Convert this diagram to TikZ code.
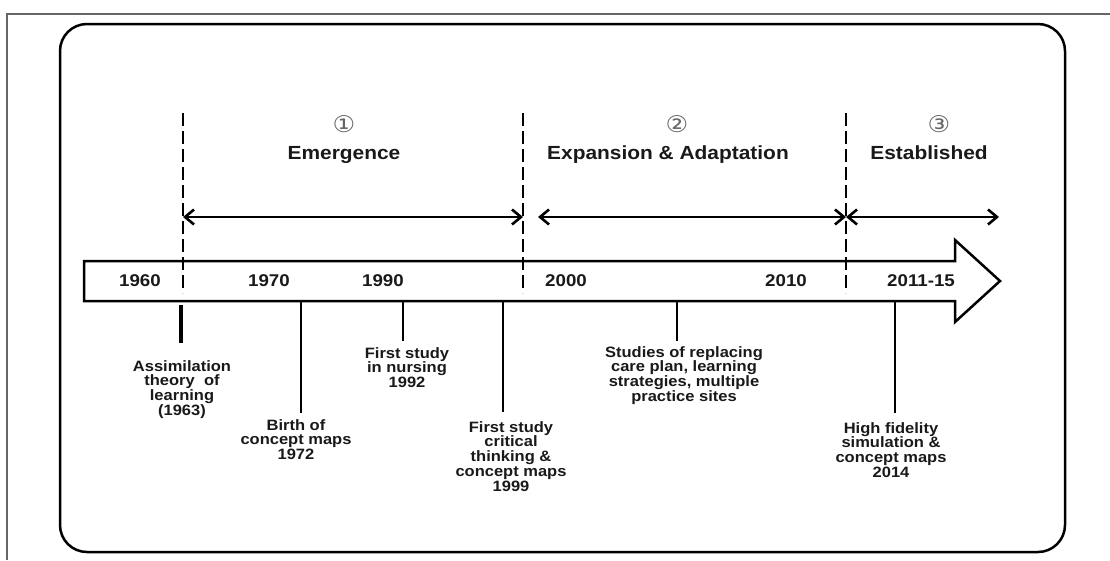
\documentclass[tikz,border=0pt]{standalone}
\usepackage{fontspec}
\setmainfont{Liberation Sans}[FakeStretch=1.1]
\newfontfamily\circfont{DejaVu Sans}[FakeStretch=1.1]
\usetikzlibrary{arrows.meta}
\begin{document}
\begin{tikzpicture}[x=1pt, y=-1pt,
  every node/.style={inner sep=0pt, text=black!90},
  phase/.style={font=\bfseries\fontsize{19}{22}\selectfont, anchor=base},
  num/.style={font=\circfont\fontsize{23}{25}\selectfont, text=black!60},
  year/.style={font=\bfseries\fontsize{17}{19}\selectfont, anchor=base},
  event/.style={font=\bfseries\fontsize{15}{14.8}\selectfont, align=center, anchor=north},
  divider/.style={line width=2pt, dash pattern=on 13pt off 5pt},
  span/.style={line width=2.6pt, {Straight Barb[length=9pt, width=15pt]}-{Straight Barb[length=9pt, width=15pt]}},
  tick/.style={line width=2pt}]
  \useasboundingbox (0,0) rectangle (1110,560);
  \draw[black!60, line width=1.5pt] (7,560) -- (7,14) -- (1110,14);
  \draw[line width=2.5pt, rounded corners=27pt] (60,24) rectangle (1065,552);

  \draw[line width=2.5pt, line join=miter] (84,261) -- (955,261) -- (955,240) -- (1000,281)
    -- (955,322) -- (955,301) -- (84,301) -- cycle;

  \coordinate (d1t) at (183,113); \coordinate (d1b) at (183,293);
  \coordinate (d2t) at (523,113); \coordinate (d2b) at (523,293);
  \coordinate (d3t) at (846,113); \coordinate (d3b) at (846,293);
  \draw[divider] (d1t) -- (d1b);
  \draw[divider] (d2t) -- (d2b);
  \draw[divider] (d3t) -- (d3b);

  \node[num] (n1) at (344,124) {①};
  \node[num] (n2) at (677,124) {②};
  \node[num] (n3) at (939,124) {③};
  \node[phase] (p1) at (344,159) {Emergence};
  \node[phase] (p2) at (668,159) {Expansion \& Adaptation};
  \node[phase] (p3) at (929,159) {Established};

  \coordinate (s1) at (183,217);
  \coordinate (s2) at (523,217);
  \coordinate (s2b) at (538,217);
  \coordinate (s3) at (846,217);
  \coordinate (s4) at (999,217);
  \draw[span] (s1) -- (s2);
  \draw[span] (s2b) -- (s3);
  \draw[span] (s3) -- (s4);

  \node[year] (y60) at (140,286) {1960};
  \node[year] (y70) at (269,286) {1970};
  \node[year] (y90) at (383,286) {1990};
  \node[year] (y00) at (566,286) {2000};
  \node[year] (y10) at (786,286) {2010};
  \node[year] (y11) at (921,286) {2011-15};

  \node[event] (e63) at (182,360) {Assimilation\\theory\ \ of\\learning\\(1963)};
  \node[event] (e72) at (296,419) {Birth of\\concept maps\\1972};
  \node[event] (e92) at (407,347) {First study\\in nursing\\1992};
  \node[event] (e99) at (511,421) {First study\\critical\\thinking \&\\concept maps\\1999};
  \node[event] (e00) at (684,346) {Studies of replacing\\care plan, learning\\strategies, multiple\\practice sites};
  \node[event] (e14) at (891,422) {High fidelity\\simulation \&\\concept maps\\2014};

  \coordinate (b63) at (181,305);
  \coordinate (b72) at (301,301);
  \coordinate (b92) at (403,301);
  \coordinate (b99) at (503,301);
  \coordinate (b00) at (677,301);
  \coordinate (b14) at (895,301);
  \draw[tick, line width=4pt, shorten >=17pt] (b63) -- (b63 |- e63.north);
  \draw[tick, shorten >=6pt] (b72) -- (b72 |- e72.north);
  \draw[tick, line width=1.5pt, shorten >=6pt] (b92) -- (b92 |- e92.north);
  \draw[tick, shorten >=9pt] (b99) -- (b99 |- e99.north);
  \draw[tick, line width=1.5pt, shorten >=5pt] (b00) -- (b00 |- e00.north);
  \draw[tick, shorten >=9pt] (b14) -- (b14 |- e14.north);
\end{tikzpicture}
\end{document}
